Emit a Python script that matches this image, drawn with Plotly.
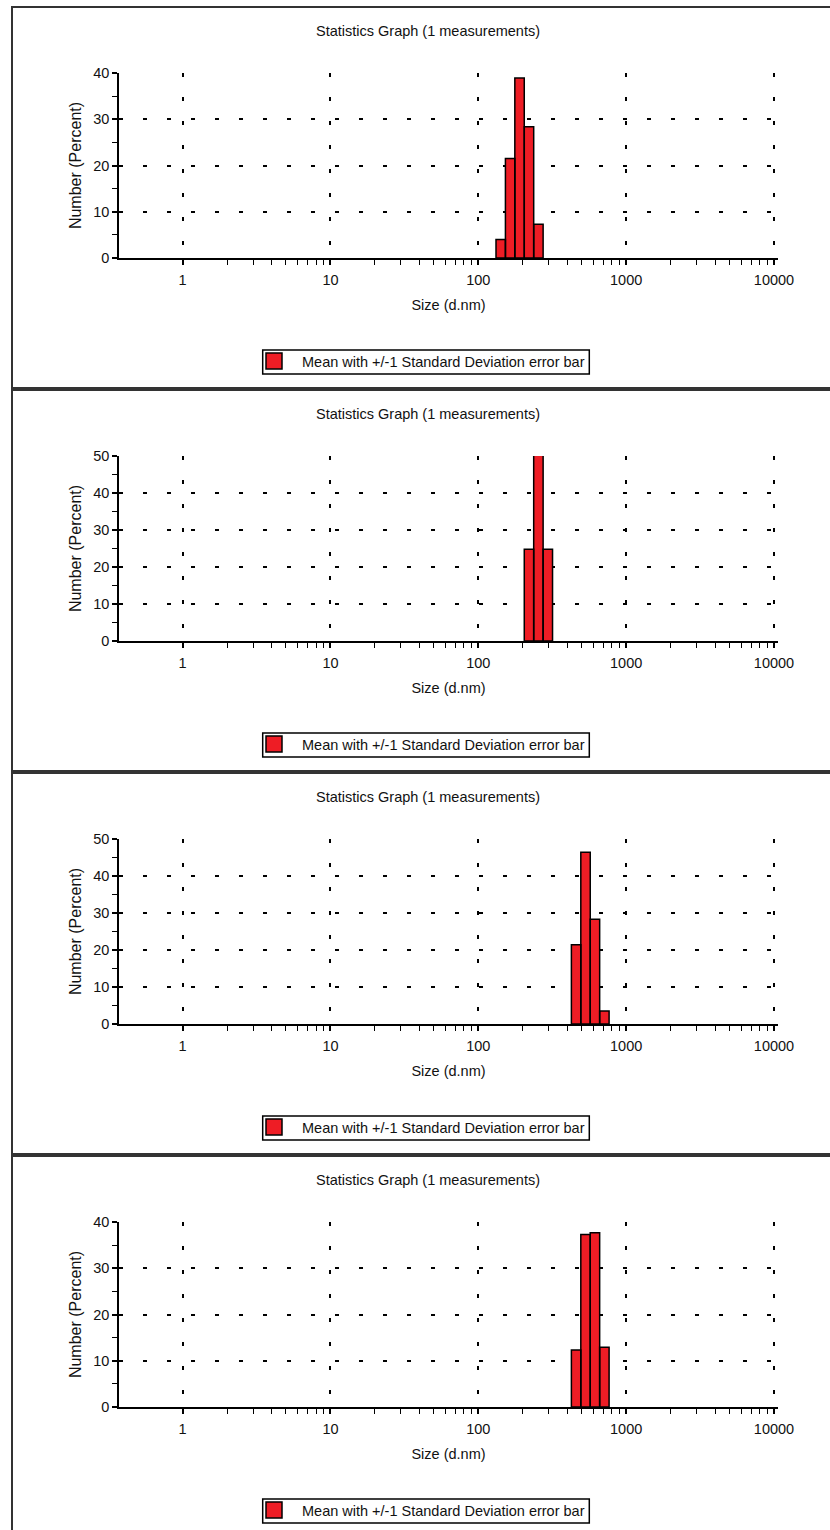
import math
import plotly.graph_objects as go

# ---------------- data ----------------
sizes_1 = [141.8, 164.2, 190.1, 220.2, 255.0]
number_1 = [4.0, 21.5, 38.9, 28.4, 7.3]

sizes_2 = [220.2, 255.0, 295.3]
number_2 = [24.8, 50.4, 24.8]

sizes_3 = [458.7, 531.2, 615.1, 712.4]
number_3 = [21.4, 46.4, 28.3, 3.5]

sizes_4 = [458.7, 531.2, 615.1, 712.4]
number_4 = [12.3, 37.3, 37.7, 12.9]

y_max = [40, 50, 50, 40]
bin_ratio = 1.1582  # ratio between neighbouring size classes

title_text = "Statistics Graph (1 measurements)"
legend_text = "Mean with +/-1 Standard Deviation error bar"
x_title = "Size (d.nm)"
y_title = "Number (Percent)"
x_tickvals = [1, 10, 100, 1000, 10000]
x_ticktext = ["1", "10", "100", "1000", "10000"]

panels = [(sizes_1, number_1), (sizes_2, number_2), (sizes_3, number_3), (sizes_4, number_4)]

# ---------------- style ----------------
W, H = 830, 1530
RED = "#EE1D25"
FONT = "Liberation Sans, Arial, sans-serif"
TXT = "#111111"
FS = 14.5
STEP = 383  # pixel height of one panel
GRID_DASH = "4px,20px"

minor_x = [m * 10 ** d for d in range(0, 4) for m in range(2, 10)]


def px_x(p):
    return p / W


def px_y(p):
    return 1 - p / H


fig = go.Figure()
layout = dict(
    width=W, height=H,
    margin=dict(l=0, r=0, t=0, b=0),
    paper_bgcolor="white", plot_bgcolor="white",
    font=dict(family=FONT, size=FS, color=TXT),
    annotations=[], shapes=[],
)

half = math.sqrt(bin_ratio)
for k, (sizes, values) in enumerate(panels):
    n = k + 1
    off = STEP * k
    xa = "x" if n == 1 else f"x{n}"
    ya = "y" if n == 1 else f"y{n}"
    lg = "legend" if n == 1 else f"legend{n}"

    xs, ys = [], []
    for s, v in zip(sizes, values):
        lo, hi = s / half, s * half
        xs += [lo, lo, hi, hi, lo, None]
        ys += [0, v, v, 0, 0, None]
    fig.add_trace(go.Scatter(
        x=xs, y=ys, mode="lines", fill="toself", fillcolor=RED,
        line=dict(color="black", width=1.5), xaxis=xa, yaxis=ya,
        showlegend=False, hoverinfo="skip",
    ))
    # legend entry
    fig.add_trace(go.Scatter(
        x=[None], y=[None], mode="markers", name=legend_text,
        marker=dict(symbol="square", size=16, color=RED, line=dict(color="black", width=1.5)),
        xaxis=xa, yaxis=ya, legend=lg, showlegend=True,
    ))

    axis_common = dict(
        showline=True, linecolor="black", linewidth=1.5,
        ticks="outside", ticklen=5, tickwidth=1.5, tickcolor="black",
        showgrid=True, gridcolor="black", gridwidth=1.5, griddash=GRID_DASH,
        zeroline=False, tickfont=dict(size=FS, color=TXT, family=FONT),
        automargin=False,
    )
    layout["xaxis" if n == 1 else f"xaxis{n}"] = dict(
        axis_common, type="log", range=[-0.43, 4.027],
        domain=[px_x(119), px_x(778)], anchor=ya,
        tickmode="array", tickvals=x_tickvals, ticktext=x_ticktext,
        ticklabelstandoff=3,
        minor=dict(tickmode="array", tickvals=minor_x, ticks="outside", ticklen=5,
                   tickwidth=1.2, tickcolor="black", showgrid=False),
        title=dict(text=x_title, font=dict(size=FS, color=TXT, family=FONT), standoff=13),
    )
    layout["yaxis" if n == 1 else f"yaxis{n}"] = dict(
        axis_common, range=[0, y_max[k]],
        domain=[px_y(258 + off), px_y(73 + off)], anchor=xa,
        tickmode="linear", tick0=0, dtick=10,
        minor=dict(dtick=5, ticks="outside", ticklen=5, tickwidth=1.2,
                   tickcolor="black", showgrid=False),
        title=dict(text=y_title, font=dict(size=16, color=TXT, family=FONT), standoff=8),
    )
    # legend: text + swatch from plotly, frame drawn as a shape
    layout[lg] = dict(
        x=px_x(246), y=px_y(345 + off), xanchor="left", yanchor="top",
        borderwidth=0, bgcolor="rgba(0,0,0,0)", itemwidth=46,
        font=dict(size=FS, color=TXT, family=FONT),
    )
    layout["shapes"].append(dict(
        type="rect", xref="paper", yref="paper",
        x0=px_x(262.7), x1=px_x(589.3), y0=px_y(374 + off), y1=px_y(350 + off),
        line=dict(color="black", width=1.5), fillcolor="white", layer="above",
    ))
    layout["annotations"].append(dict(
        text=title_text, xref="paper", yref="paper", x=px_x(428), y=px_y(31 + off),
        xanchor="center", yanchor="middle", showarrow=False,
        font=dict(size=FS, color=TXT, family=FONT),
    ))
    layout["shapes"].append(dict(
        type="rect", xref="paper", yref="paper",
        x0=px_x(12), x1=1.05, y0=px_y(388 + off), y1=px_y(7 + off),
        line=dict(color="#333333", width=2), fillcolor="rgba(0,0,0,0)", layer="below",
    ))

fig.update_layout(**layout)
fig.write_html("out.html", config={"displayModeBar": False},
               post_script="document.body.style.margin='0px';")
